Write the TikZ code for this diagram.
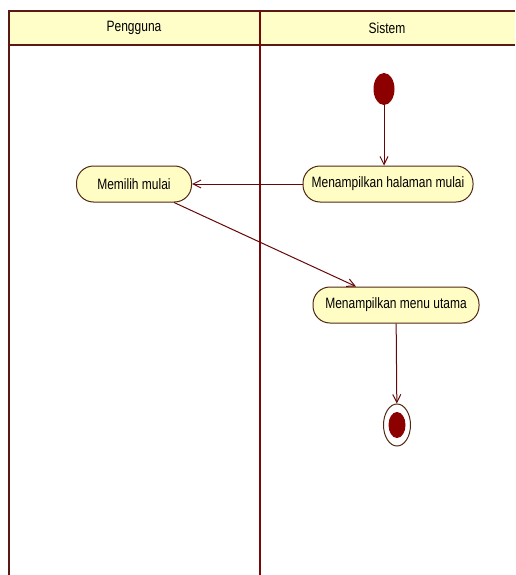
\documentclass[tikz,border=0pt]{standalone}
\usepackage{fontspec}
\newfontfamily\umlfont[FakeStretch=0.8]{Liberation Sans}
\usetikzlibrary{arrows.meta,shapes.geometric}
\definecolor{lanered}{RGB}{92,24,18}
\definecolor{midred}{RGB}{120,8,8}
\definecolor{umlfill}{RGB}{255,253,196}
\definecolor{headfill}{RGB}{255,253,200}
\definecolor{dotred}{RGB}{140,0,0}
\definecolor{edgebrown}{RGB}{80,40,20}
\begin{document}
\begin{tikzpicture}[x=1pt,y=-1pt,>={Straight Barb[length=8pt,width=8pt]},
    every node/.style={font=\umlfont\fontsize{15}{17}\selectfont},
    action/.style={rectangle,draw=edgebrown,line width=1pt,rounded corners=17pt,fill=umlfill,minimum height=36pt},
    dot/.style={ellipse,fill=dotred,inner sep=0pt},
    flow/.style={->,draw=midred!85!black,line width=1pt}]
    \useasboundingbox (0,0) rectangle (515,575);
    % lanes
    \fill[headfill] (9,11) rectangle (515,45);
    \draw[lanered,line width=2pt] (515,11) -- (9,11) -- (9,575) (9,45) -- (515,45);
    \draw[midred,line width=2.5pt] (260,11) -- (260,575);
    \node (pengguna) at (134,28) {Pengguna};
    \node (sistem) at (387,28) {Sistem};
    % start and end
    \node[dot,minimum width=21pt,minimum height=32pt] (start) at (384,89) {};
    \node[ellipse,draw=edgebrown,line width=1pt,fill=white,minimum width=27pt,minimum height=42pt] (end) at (397,425) {};
    \node[dot,minimum width=17pt,minimum height=26pt] (endin) at (end) {};
    % actions
    \node[action,minimum width=170pt] (halaman) at (388,184) {Menampilkan halaman mulai};
    \node[action,minimum width=115pt] (memilih) at (134,184) {Memilih mulai};
    \node[action,minimum width=166pt] (menu) at (396,305) {Menampilkan menu utama};
    % arrows
    \draw[flow] (start) -- (start |- halaman.north);
    \draw[flow] (halaman) -- (memilih);
    \draw[flow] (memilih) -- (menu);
    \draw[flow] (menu) -- (end);
  \end{tikzpicture}
\end{document}
